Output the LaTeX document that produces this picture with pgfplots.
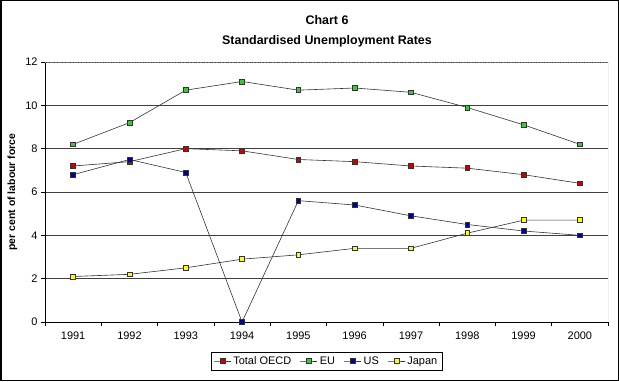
\documentclass[border=0pt]{standalone}
\usepackage{fontspec}
\setmainfont{Liberation Sans}
\usepackage{pgfplots}
\pgfplotsset{compat=1.18}
\definecolor{cred}{RGB}{204,0,0}
\definecolor{cgreen}{RGB}{51,204,51}
\definecolor{cblue}{RGB}{0,0,153}
\definecolor{cyellow}{RGB}{255,255,0}
\begin{document}
\begin{tikzpicture}[x=1bp,y=1bp]
\useasboundingbox (0,0) rectangle (619,381);
\draw[line width=1.5bp] (0.75,0.75) rectangle (618.25,380.25);
\node[font=\fontsize{12.5}{14}\selectfont\bfseries] at (327,361) {Chart 6};
\node[font=\fontsize{12.5}{14}\selectfont\bfseries] at (327,340) {Standardised Unemployment Rates};
\begin{axis}[
  at={(45bp,59bp)}, anchor=south west,
  scale only axis, width=563bp, height=260bp,
  xmin=-0.5, xmax=9.5, ymin=0, ymax=12,
  xtick={0,...,9},
  xticklabels={1991,1992,1993,1994,1995,1996,1997,1998,1999,2000},
  major x tick style={draw=none},
  minor xtick={-0.5,0.5,...,9.5},
  minor tick length=4bp,
  ytick={0,2,...,12},
  major tick length=4bp,
  tick align=outside,
  axis x line*=bottom, axis y line*=left,
  axis line style={black, line width=0.6bp},
  ymajorgrids,
  grid style={black!75, line width=0.7bp},
  tick style={black, line width=0.6bp},
  /pgf/number format/assume math mode=true,
  ticklabel style={font=\fontsize{11}{12}\selectfont},
  xticklabel style={yshift=-2bp},
  ylabel={per cent of labour force},
  ylabel style={font=\fontsize{10.5}{12}\selectfont\bfseries, at={(axis description cs:-0.058,0.5)}, anchor=center},
  legend style={at={(axis description cs:0.5,-0.15)}, anchor=center, legend columns=4,
    font=\fontsize{11}{12}\selectfont, draw=black, line width=0.4bp, inner sep=2.5bp,
    /tikz/every even column/.append style={column sep=7bp}},
  legend cell align=left,
  every axis plot/.append style={line width=0.6bp, black!80, mark=square*, mark size=2.4bp, mark options={draw=black, line width=0.4bp}},
]
\addplot[mark options={fill=cred}] coordinates {(0,7.2)(1,7.4)(2,8.0)(3,7.9)(4,7.5)(5,7.4)(6,7.2)(7,7.1)(8,6.8)(9,6.4)};
\addlegendentry{Total OECD}
\addplot[mark options={fill=cgreen}] coordinates {(0,8.2)(1,9.2)(2,10.7)(3,11.1)(4,10.7)(5,10.8)(6,10.6)(7,9.9)(8,9.1)(9,8.2)};
\addlegendentry{EU}
\addplot[mark options={fill=cblue}] coordinates {(0,6.8)(1,7.5)(2,6.9)(3,0)(4,5.6)(5,5.4)(6,4.9)(7,4.5)(8,4.2)(9,4.0)};
\addlegendentry{US}
\addplot[mark options={fill=cyellow}] coordinates {(0,2.1)(1,2.2)(2,2.5)(3,2.9)(4,3.1)(5,3.4)(6,3.4)(7,4.1)(8,4.7)(9,4.7)};
\addlegendentry{Japan}
\draw[gray, line width=0.6bp] (rel axis cs:1,0) -- (rel axis cs:1,1);
\draw[gray, densely dotted, line width=0.6bp] (rel axis cs:0,1) -- (rel axis cs:1,1);
\end{axis}
\end{tikzpicture}
\end{document}
